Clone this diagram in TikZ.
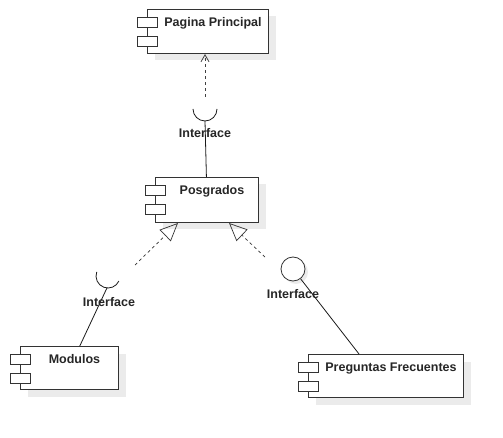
\documentclass[tikz,border=0pt]{standalone}
\usepackage{fontspec}
\setmainfont{Liberation Sans}
\usetikzlibrary{arrows.meta,shadows}
\begin{document}
\begin{tikzpicture}[x=1pt,y=1pt,
  comp/.style={draw=black!80,line width=1pt,fill=white,anchor=north west,inner sep=0pt,
    general shadow={fill=black!8,shadow xshift=7pt,shadow yshift=-7pt}},
  tab/.style={draw=black!80,line width=0.8pt,fill=white},
  lbltxt/.style={font=\fontsize{12.5}{14}\selectfont\bfseries,text=black!85,inner sep=0pt,
    text height=9pt,text depth=0pt},
  wire/.style={line width=0.8pt,black!90},
  dep/.style={dash pattern=on 3pt off 3pt,line width=0.8pt,black!75,
    -{Straight Barb[length=7pt,width=8pt]}},
  gen/.style={dash pattern=on 3pt off 3pt,line width=0.7pt,black!80,
    -{Triangle[open,length=18pt,width=16pt]}}]
\useasboundingbox (0,0) rectangle (503,-438);
% components
\node[comp,minimum width=121pt,minimum height=44pt] (pag) at (147,-9) {};
\node[comp,minimum width=103pt,minimum height=45pt] (pos) at (155,-177) {};
\node[comp,minimum width=98pt,minimum height=43pt] (mod) at (20,-346) {};
\node[comp,minimum width=155pt,minimum height=43pt] (pre) at (308,-354) {};
\foreach \c in {pag,pos,mod,pre}{
  \draw[tab] ([shift={(-10pt,-8pt)}]\c.north west) rectangle ++(20pt,-10pt);
  \draw[tab] ([shift={(-10pt,-27pt)}]\c.north west) rectangle ++(20pt,-10pt);
}
\node[lbltxt] (pagname) at ([shift={(5pt,-13pt)}]pag.north) {Pagina Principal};
\node[lbltxt] (posname) at ([shift={(5pt,-13pt)}]pos.north) {Posgrados};
\node[lbltxt] (modname) at ([shift={(5pt,-13pt)}]mod.north) {Modulos};
\node[lbltxt] (prename) at ([shift={(5pt,-13pt)}]pre.north) {Preguntas Frecuentes};
% required interface of Posgrados
\coordinate (req1) at (205,-109);
\draw[wire] ([xshift=-12pt]req1) arc[start angle=180,end angle=360,radius=12pt];
\draw[wire] ([yshift=-12pt]req1) -- (pos);
\draw[dep] ([yshift=12pt]req1) -- (pag.south -| req1);
\node[lbltxt] (req1lbl) at (205,-133) {Interface};
% required interface of Modulos
\coordinate (req2) at (108,-276);
\draw[wire] ([shift={(160:12pt)}]req2) arc[start angle=160,end angle=335,radius=12pt];
\draw[wire] ([shift={(265:12pt)}]req2) -- (mod);
\node[lbltxt] (req2lbl) at (109,-302) {Interface};
% provided interface of Preguntas Frecuentes
\node[draw=black!80,line width=0.8pt,circle,minimum size=24pt,inner sep=0pt,fill=white,
  general shadow={fill=black!8,shadow xshift=3pt,shadow yshift=-3pt}] (lol) at (293,-269) {};
\draw[wire] (lol) -- ([xshift=-27pt]pre.north);
\node[lbltxt] (prolbl) at (293,-294) {Interface};
% realizations
\coordinate (g1) at (135,-265);
\coordinate (g2) at (265,-257);
\draw[gen] (g1) -- ([xshift=23pt]pos.south west);
\draw[gen] (g2) -- ([xshift=-30pt]pos.south east);
\end{tikzpicture}
\end{document}
